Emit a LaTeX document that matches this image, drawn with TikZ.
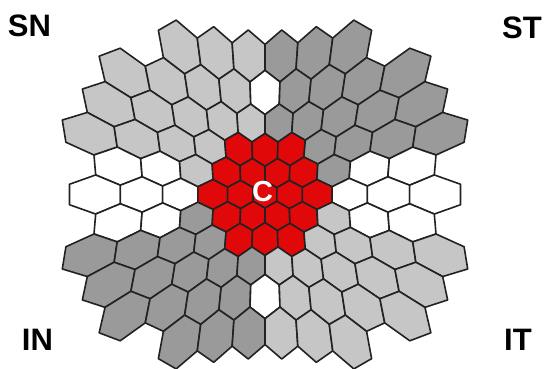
\documentclass[tikz,border=0pt]{standalone}
\usepackage{fontspec}
\setmainfont{Liberation Sans}
\definecolor{fovred}{HTML}{E00808}
\definecolor{quadlight}{HTML}{C6C6C6}
\definecolor{quaddark}{HTML}{9A9A9A}
\definecolor{edgegray}{HTML}{222222}

% one hexagon of the stimulus, scaled with eccentricity
% #1 = column, #2 = row (negative = upper half), #3 = fill
\newcommand{\retcell}[3]{%
  \foreach \a [count=\k] in {90,30,-30,-90,-150,150} {
    \pgfmathsetmacro{\vxa}{#1+0.57735*cos(\a)}
    \pgfmathsetmacro{\vya}{-0.86603*(#2)+0.57735*sin(\a)}
    \pgfmathsetmacro{\vrad}{veclen(\vxa,\vya)}
    \pgfmathsetmacro{\vscale}{23+0.9*\vrad+0.25*\vrad*\vrad}
    \coordinate (v\k) at ({\vscale*\vxa},{\vscale*\vya});
  }
  \filldraw[cell,fill=#3] (v1)--(v2)--(v3)--(v4)--(v5)--(v6)--cycle;
}

\begin{document}
\begin{tikzpicture}[
    x=1pt, y=1pt,
    cell/.style={draw=edgegray,line width=1.6pt,line join=round},
    corner/.style={font=\fontsize{31}{31}\selectfont\bfseries,
                   inner sep=0pt,text depth=0pt},
    fovlabel/.style={corner,font=\fontsize{29}{29}\selectfont\bfseries,
                     text=white}
  ]
  \useasboundingbox (-265,-174.5) rectangle (279,194.5);

  % 103 hexagons, row by row (row/half width)
  \foreach \r/\xmax in {-5/2.5,-4/4,-3/4.5,-2/5,-1/4.5,0/5,1/4.5,2/5,3/4.5,4/4,5/2.5} {
    \pgfmathtruncatemacro{\ncol}{2*\xmax}
    \foreach \i in {0,...,\ncol} {
      \pgfmathsetmacro{\x}{\i-\xmax}
      \pgfmathsetmacro{\ring}{abs(\x)<=abs(\r)/2 ? abs(\r) : abs(\x)+abs(\r)/2}
      % 0 centre, 1 axis, 2 dark quadrant, 3 light quadrant
      \pgfmathtruncatemacro{\kind}{\ring<2.1 ? 0 : ((\r==0 || (abs(\r)==1 && abs(\x)>3) || (abs(\r)==4 && abs(\x)<0.1)) ? 1 : ((\r)*(\x)>0 ? 3 : 2))}
      \ifcase\kind\relax \def\cellfill{fovred}\or\def\cellfill{white}\or
        \def\cellfill{quaddark}\or\def\cellfill{quadlight}\fi
      \retcell{\x}{\r}{\cellfill}
    }
  }

  \node[fovlabel] (c) at (-2.5,3) {C};

  \node[corner] (sn) at (-235.5,168.5) {SN};
  \node[corner] (st) at (257,167) {ST};
  \node[corner] (in) at (-227.5,-145.5) {IN};
  \node[corner] (it) at (253,-145.5) {IT};
\end{tikzpicture}
\end{document}
